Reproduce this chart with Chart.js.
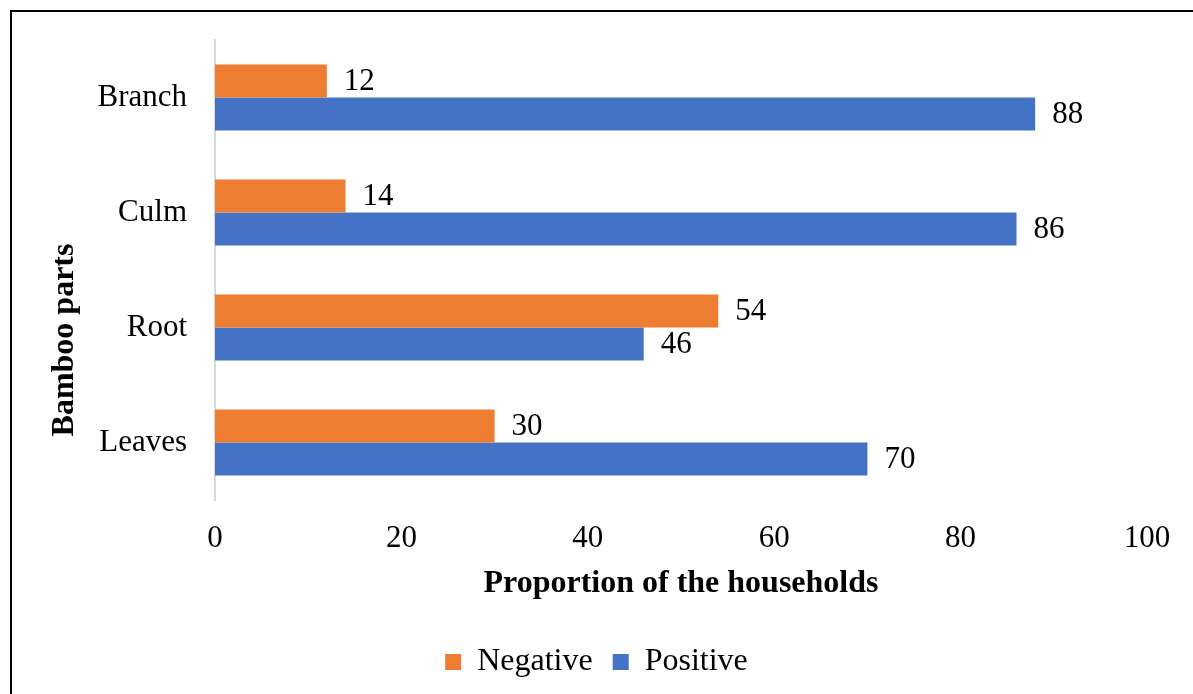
<!DOCTYPE html>
<html>
<head>
<meta charset="utf-8">
<title>Bamboo parts</title>
<script src="https://cdn.jsdelivr.net/npm/chart.js@4/dist/chart.umd.min.js"></script>
<style>
    html, body { margin: 0; padding: 0; background: #fff; }
    #wrap { position: relative; width: 1193px; height: 694px; overflow: hidden; }
    #frame {
        position: absolute; left: 10px; top: 10px; width: 1200px; height: 700px;
        border-left: 2px solid #000; border-top: 2px solid #000;
    }
    canvas { position: absolute; left: 0; top: 0; }
</style>
</head>
<body>
<div id="wrap">
    <div id="frame"></div>
    <canvas id="chart" width="1193" height="694"></canvas>
</div>
<script>
// Data
const categories = ['Branch', 'Culm', 'Root', 'Leaves'];
const negativeValues = [12, 14, 54, 30];
const positiveValues = [88, 86, 46, 70];
const xTicks = [0, 20, 40, 60, 80, 100];

const FONT = "'Liberation Serif', 'Times New Roman', serif";
const Y_TITLE = 'Bamboo parts';

// Value labels at the end of each bar
const barLabels = {
    id: 'barLabels',
    afterDatasetsDraw(chart) {
        const ctx = chart.ctx;
        ctx.save();
        ctx.font = `31px ${FONT}`;
        ctx.fillStyle = '#000';
        ctx.textAlign = 'left';
        ctx.textBaseline = 'middle';
        chart.data.datasets.forEach((ds, i) => {
            const meta = chart.getDatasetMeta(i);
            meta.data.forEach((bar, j) => {
                ctx.fillText(String(ds.data[j]), bar.x + 17, bar.y + 1);
            });
        });
        ctx.restore();
    }
};

// Rotated y title, sitting lower than the axis middle as in the original
const yTitle = {
    id: 'yTitle',
    afterDraw(chart) {
        const ctx = chart.ctx;
        const area = chart.chartArea;
        ctx.save();
        ctx.translate(65, (area.top + area.bottom) / 2 + 70);
        ctx.rotate(-Math.PI / 2);
        ctx.font = `bold 32px ${FONT}`;
        ctx.fillStyle = '#000';
        ctx.textAlign = 'center';
        ctx.textBaseline = 'middle';
        ctx.fillText(Y_TITLE, 0, 0);
        ctx.restore();
    }
};

const ctx = document.getElementById('chart').getContext('2d');
new Chart(ctx, {
    type: 'bar',
    data: {
        labels: categories,
        datasets: [
            { label: 'Negative', data: negativeValues, backgroundColor: '#ED7D31' },
            { label: 'Positive', data: positiveValues, backgroundColor: '#4472C4' }
        ]
    },
    options: {
        indexAxis: 'y',
        responsive: false,
        animation: false,
        layout: { padding: { left: 46, right: 46, top: 40, bottom: 6 } },
        datasets: {
            bar: { barPercentage: 1, categoryPercentage: 0.575 }
        },
        plugins: {
            legend: {
                position: 'bottom',
                labels: {
                    font: { family: FONT, size: 32 },
                    color: '#000',
                    boxWidth: 16,
                    boxHeight: 16,
                    padding: 20
                }
            },
            tooltip: { enabled: false }
        },
        scales: {
            x: {
                min: 0,
                max: 100,
                afterBuildTicks: (scale) => {
                    scale.ticks = xTicks.map(v => ({ value: v }));
                },
                grid: { display: false, drawTicks: false },
                border: { display: false },
                ticks: {
                    font: { family: FONT, size: 31 },
                    color: '#000',
                    padding: 20
                },
                title: {
                    display: true,
                    text: 'Proportion of the households',
                    font: { family: FONT, size: 32, weight: 'bold' },
                    color: '#000',
                    padding: { top: 0, bottom: 23 }
                },
                afterFit: (scale) => { scale.height = 126; }
            },
            y: {
                grid: { display: false, drawTicks: false },
                border: { display: true, color: '#d9d9d9', width: 2 },
                ticks: {
                    font: { family: FONT, size: 31 },
                    color: '#000',
                    padding: 28
                },
                title: { display: false },
                afterFit: (scale) => {
                    scale.width = 169;
                    scale.paddingTop = 0;
                    scale.paddingBottom = 0;
                }
            }
        }
    },
    plugins: [barLabels, yTitle]
});
</script>
</body>
</html>
